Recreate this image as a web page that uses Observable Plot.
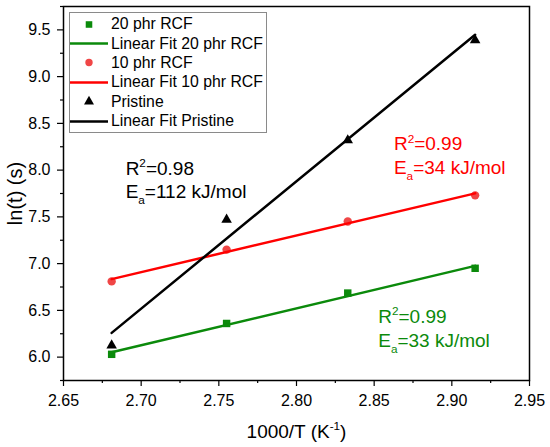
<!DOCTYPE html>
<html><head><meta charset="utf-8">
<script src="https://cdn.jsdelivr.net/npm/d3@7"></script>
<script src="https://cdn.jsdelivr.net/npm/@observablehq/plot@0.6"></script>
<style>
body{margin:0;background:#fff;font-family:"Liberation Sans",Arial,sans-serif;}
#wrap{position:relative;width:550px;height:447px;}
#legend{position:absolute;left:69px;top:12px;width:198px;height:121px;border:1px solid #8a8a8a;background:#fff;box-sizing:border-box;padding-top:1.5px;font-size:15.8px;color:#000;}
.row{height:19.4px;display:flex;align-items:center;white-space:nowrap;}
.row svg{flex:none;display:block;}
</style></head><body><div id="wrap"></div>
<script>
// ---- data ----
const invT = [2.681, 2.755, 2.833, 2.915];
const rcf20 = [6.03, 6.36, 6.685, 6.95];
const rcf10 = [6.81, 7.15, 7.45, 7.73];
const pristine = [6.125, 7.47, 8.32, 9.39];
const seriesNames = ["20 phr RCF", "10 phr RCF", "Pristine"];
const fitNames = ["Linear Fit 20 phr RCF", "Linear Fit 10 phr RCF", "Linear Fit Pristine"];
const seriesValues = [rcf20, rcf10, pristine];
const lineColors = ["#0b8a0b", "#ff0000", "#000000"];
const markerColors = ["#0b8a0b", "#f04646", "#000000"];
const seriesSymbols = ["square", "circle", "triangle"];
const markerR = [4.2, 4.2, 3.9];
const xTicks = [2.65, 2.70, 2.75, 2.80, 2.85, 2.90, 2.95];
const xMinor = [2.675, 2.725, 2.775, 2.825, 2.875, 2.925];
const yTicks = [6.0, 6.5, 7.0, 7.5, 8.0, 8.5, 9.0, 9.5];
const yMinor = [5.75, 6.25, 6.75, 7.25, 7.75, 8.25, 8.75, 9.25, 9.75];
const notesText = ["R^{2}=0.98", "E_{a}=112 kJ/mol", "R^{2}=0.99", "E_{a}=34 kJ/mol", "R^{2}=0.99", "E_{a}=33 kJ/mol"];
const notesX = [2.690, 2.690, 2.8627, 2.8627, 2.8526, 2.8526];
const notesY = [7.95, 7.70, 8.21, 7.957, 6.365, 6.105];
const notesColor = ["#000000", "#000000", "#ff0000", "#ff0000", "#0b8a0b", "#0b8a0b"];
const xLabel = "1000/T (K^{-1})";
const yLabel = "ln(t) (s)";

const tables = seriesValues.map(vals => invT.map((x, i) => ({x, y: vals[i]})));
const notes = notesText.map((t, i) => ({t, x: notesX[i], y: notesY[i], c: notesColor[i]}));

const marks = [];
tables.forEach((tb, s) => {
  marks.push(Plot.dot(tb, {x: "x", y: "y", symbol: seriesSymbols[s], fill: markerColors[s], r: markerR[s], stroke: "none"}));
  marks.push(Plot.linearRegressionY(tb, {x: "x", y: "y", stroke: lineColors[s], strokeWidth: 2.5, ci: 0}));
});
marks.push(Plot.text(notes, {x: "x", y: "y", text: "t", fill: "c", textAnchor: "start", lineAnchor: "bottom", fontSize: 19}));
marks.push(Plot.axisX(xTicks, {tickSize: 6, tickPadding: 8, strokeWidth: 1.2, tickFormat: d3.format(".2f"), fontSize: 16,
  label: xLabel, labelAnchor: "center", labelArrow: "none", labelOffset: 57}));
marks.push(Plot.axisX(xMinor, {tickSize: 3, strokeWidth: 1.2, text: null, label: null}));
marks.push(Plot.axisY(yTicks, {tickSize: 6, tickPadding: 7, strokeWidth: 1.2, tickFormat: d3.format(".1f"), fontSize: 16,
  label: yLabel, labelAnchor: "center", labelArrow: "none", labelOffset: 56}));
marks.push(Plot.axisY(yMinor, {tickSize: 3, strokeWidth: 1.2, text: null, label: null}));
marks.push(Plot.frame({stroke: "#000", strokeWidth: 1.5}));

const chart = Plot.plot({
  width: 550, height: 447,
  marginLeft: 63, marginRight: 21, marginTop: 6, marginBottom: 67,
  style: {fontFamily: '"Liberation Sans", Arial, sans-serif', color: "#000", background: "#fff"},
  x: {domain: [2.65, 2.95]},
  y: {domain: [5.75, 9.75]},
  marks
});
const wrap = document.getElementById("wrap");
wrap.appendChild(chart);

// axis label sizes
chart.querySelectorAll('g[aria-label="x-axis label"]').forEach(g => g.setAttribute("font-size", 19));
chart.querySelectorAll('g[aria-label="y-axis label"]').forEach(g => g.setAttribute("font-size", 20));

// rich text: ^{sup} and _{sub}
function richify(root) {
  root.querySelectorAll("text").forEach(t => {
    const s = t.textContent;
    if (!/[\^_]\{/.test(s)) return;
    const fs = parseFloat(getComputedStyle(t).fontSize);
    const parts = []; const re = /([\^_])\{([^}]*)\}/g; let last = 0, m;
    while ((m = re.exec(s))) {
      if (m.index > last) parts.push(["n", s.slice(last, m.index)]);
      parts.push([m[1] === "^" ? "sup" : "sub", m[2]]);
      last = re.lastIndex;
    }
    if (last < s.length) parts.push(["n", s.slice(last)]);
    while (t.firstChild) t.removeChild(t.firstChild);
    let shift = 0;
    for (const [k, v] of parts) {
      const ts = document.createElementNS("http://www.w3.org/2000/svg", "tspan");
      const target = k === "sup" ? -0.4 * fs : k === "sub" ? 0.3 * fs : 0;
      ts.setAttribute("dy", target - shift); shift = target;
      if (k !== "n") ts.setAttribute("font-size", 0.62 * fs);
      ts.textContent = v; t.appendChild(ts);
    }
  });
}
richify(chart);

// legend
const legend = document.createElement("div");
legend.id = "legend";
const sym = {square: d3.symbolSquare, circle: d3.symbolCircle, triangle: d3.symbolTriangle};
seriesNames.forEach((name, s) => {
  const r1 = d3.select(legend).append("div").attr("class", "row");
  const sv = r1.append("svg").attr("width", 41).attr("height", 19);
  sv.append("path").attr("transform", "translate(19,9.5)")
    .attr("d", d3.symbol(sym[seriesSymbols[s]], Math.PI * 3.7 * 3.7)())
    .attr("fill", markerColors[s]);
  r1.append("span").text(name);
  const r2 = d3.select(legend).append("div").attr("class", "row");
  const sv2 = r2.append("svg").attr("width", 41).attr("height", 19);
  sv2.append("line").attr("x1", 0).attr("x2", 38).attr("y1", 9.5).attr("y2", 9.5)
    .attr("stroke", lineColors[s]).attr("stroke-width", 2.5);
  r2.append("span").text(fitNames[s]);
});
wrap.appendChild(legend);
</script></body></html>
